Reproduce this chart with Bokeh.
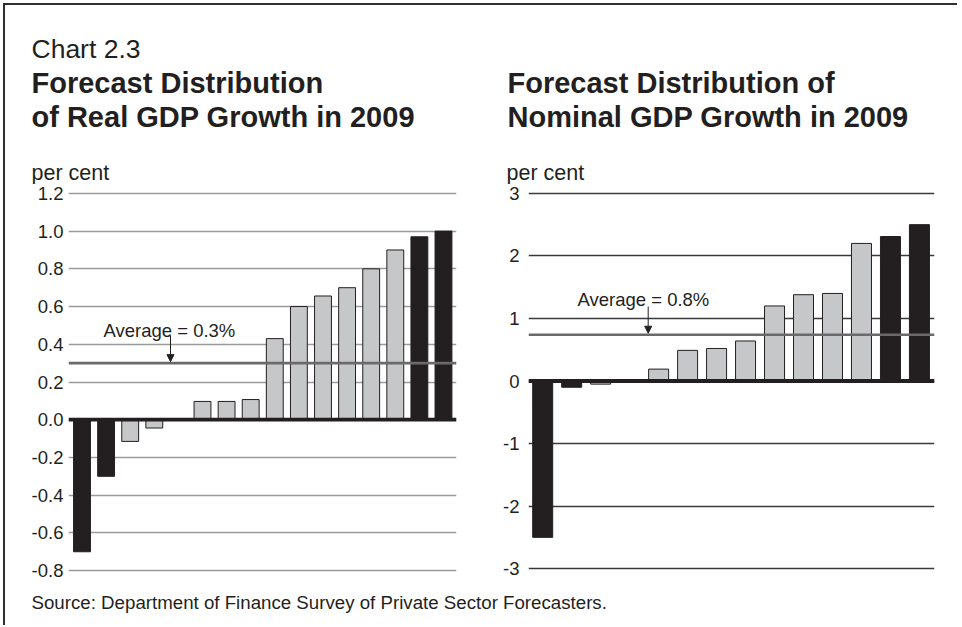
from bokeh.plotting import figure
from bokeh.models import Span, Label, Arrow, NormalHead, FixedTicker, NumeralTickFormatter, ColumnDataSource
from bokeh.layouts import row, column
from bokeh.embed import file_html
from bokeh.resources import INLINE

# ---------------- data ----------------
chart_label = "Chart 2.3"
real_title = ["Forecast Distribution", "of Real GDP Growth in 2009"]
real_values = [-0.70, -0.30, -0.115, -0.044, 0.0, 0.097, 0.097, 0.107,
               0.43, 0.60, 0.656, 0.70, 0.80, 0.90, 0.97, 1.00]
real_extreme = [1, 1, 0, 0, 0, 0, 0, 0, 0, 0, 0, 0, 0, 0, 1, 1]
real_ticks = [-0.8, -0.6, -0.4, -0.2, 0.0, 0.2, 0.4, 0.6, 0.8, 1.0, 1.2]
real_average = 0.3
real_average_label = "Average = 0.3%"

nominal_title = ["Forecast Distribution of", "Nominal GDP Growth in 2009"]
nominal_values = [-2.5, -0.10, -0.05, 0.0, 0.19, 0.49, 0.52, 0.64,
                  1.20, 1.38, 1.40, 2.20, 2.31, 2.50]
nominal_extreme = [1, 1, 0, 0, 0, 0, 0, 0, 0, 0, 0, 0, 1, 1]
nominal_ticks = [-3, -2, -1, 0, 1, 2, 3]
nominal_average = 0.74
nominal_average_label = "Average = 0.8%"

unit_label = "per cent"
source_text = "Source: Department of Finance Survey of Private Sector Forecasters."

# ---------------- style ----------------
BLACK = "#231f20"
GRAY = "#c6c7c9"
FONT = "Liberation Sans"
HEADER_H = 179
CHART_H = 400
SOURCE_H = 41
LEFT_W = 485
RIGHT_W = 467


def blank(width, height):
    f = figure(frame_width=width, frame_height=height, min_border=0,
               x_range=(0, width), y_range=(0, height), output_backend="svg",
               toolbar_location=None)
    f.outline_line_color = None
    f.axis.visible = False
    f.grid.visible = False
    f.background_fill_color = "white"
    f.border_fill_color = "white"
    return f


def text(f, s, x, y, size, bold=False):
    f.add_layout(Label(x=x, y=y, text=s, text_font=FONT, text_font_size=size,
                       text_color=BLACK, text_font_style="bold" if bold else "normal",
                       text_baseline="alphabetic", text_align="left"))


def header(width, title_lines, tx, unit_x, chart_lab=None):
    f = blank(width, HEADER_H)
    if chart_lab:
        text(f, chart_lab, tx, 136, "26.5px")
    text(f, title_lines[0], tx, 101.5, "29px", True)
    text(f, title_lines[1], tx, 68, "29px", True)
    text(f, unit_label, unit_x, 12, "21.5px")
    return f


def make_panel(values, extreme, ticks, fmt, avg, avg_label,
               width, fw, fh, bl, bt, xr, yr, grid_color, standoff,
               avg_lab_x, avg_lab_y, arrow_x, arrow_y0, bar_width=0.7):
    br = width - bl - fw
    bb = CHART_H - bt - fh
    p = figure(frame_width=fw, frame_height=fh,
               min_border_left=bl, min_border_right=br,
               min_border_top=bt, min_border_bottom=bb,
               x_range=xr, y_range=yr, output_backend="svg",
               toolbar_location=None)
    p.outline_line_color = None
    p.background_fill_color = "white"
    p.border_fill_color = "white"
    p.xaxis.visible = False
    p.xgrid.visible = False
    p.yaxis.ticker = FixedTicker(ticks=ticks)
    p.yaxis.formatter = NumeralTickFormatter(format=fmt)
    p.yaxis.axis_line_color = None
    p.yaxis.major_tick_line_color = None
    p.yaxis.minor_tick_line_color = None
    p.yaxis.major_tick_out = 0
    p.yaxis.major_tick_in = 0
    p.yaxis.minor_tick_out = 0
    p.yaxis.major_label_standoff = standoff
    p.yaxis.major_label_text_font = FONT
    p.yaxis.major_label_text_font_size = "18.5px"
    p.yaxis.major_label_text_color = BLACK
    p.ygrid.ticker = FixedTicker(ticks=ticks)
    p.ygrid.grid_line_color = grid_color
    p.ygrid.grid_line_width = 1.3

    xs = list(range(len(values)))
    colors = [BLACK if e else GRAY for e in extreme]
    src = ColumnDataSource(dict(x=xs, top=values, color=colors))
    p.vbar(x="x", top="top", bottom=0, width=bar_width, source=src,
           fill_color="color", line_color=BLACK, line_width=1)

    p.add_layout(Span(location=avg, dimension="width", line_color="#6a6a6a",
                      line_width=2.6))
    p.add_layout(Span(location=0, dimension="width", line_color=BLACK,
                      line_width=3.8))

    x0, x1 = xr
    y0, y1 = yr
    ppx = fw / (x1 - x0)
    ppy = fh / (y1 - y0)

    def dx(cx):
        return x0 + (cx - bl) / ppx

    def dy(cy):
        return y1 - (cy - bt) / ppy

    p.add_layout(Label(x=dx(avg_lab_x), y=dy(avg_lab_y), text=avg_label,
                       text_font=FONT, text_font_size="18.5px", text_color=BLACK,
                       text_baseline="alphabetic"))
    ax = dx(arrow_x)
    p.add_layout(Arrow(x_start=ax, y_start=dy(arrow_y0), x_end=ax,
                       y_end=avg + 1.5 / ppy,
                       line_color=BLACK, line_width=1,
                       end=NormalHead(size=7, fill_color=BLACK, line_color=BLACK)))
    return p


head_left = header(LEFT_W, real_title, 26, 26, chart_lab=chart_label)
head_right = header(RIGHT_W, nominal_title, 17, 16)

left = make_panel(real_values, real_extreme, real_ticks, "0.0", real_average,
                  real_average_label,
                  width=LEFT_W, fw=388, fh=381, bl=63, bt=7,
                  xr=(-0.56, 15.54), yr=(-0.81, 1.21), grid_color="#9b9b9b",
                  standoff=5, avg_lab_x=98, avg_lab_y=146,
                  arrow_x=165, arrow_y0=151, bar_width=0.7)

right = make_panel(nominal_values, nominal_extreme, nominal_ticks, "0", nominal_average,
                   nominal_average_label,
                   width=RIGHT_W, fw=406, fh=379, bl=38, bt=6,
                   xr=(-0.49, 13.52), yr=(-3.03, 3.03), grid_color="#3a3a3a",
                   standoff=9, avg_lab_x=87, avg_lab_y=114,
                   arrow_x=157.7, arrow_y0=121, bar_width=0.69)

src_fig = blank(LEFT_W + RIGHT_W, SOURCE_H)
text(src_fig, source_text, 26, 23, "18.7px")

layout = column(row(head_left, head_right, spacing=0),
                row(left, right, spacing=0),
                src_fig, spacing=0,
                styles={"border-top": "2px solid #2e2e2e",
                        "border-left": "2px solid #2e2e2e",
                        "margin-left": "3px", "margin-top": "3px"})

open("out.html", "w").write(file_html(layout, INLINE))
